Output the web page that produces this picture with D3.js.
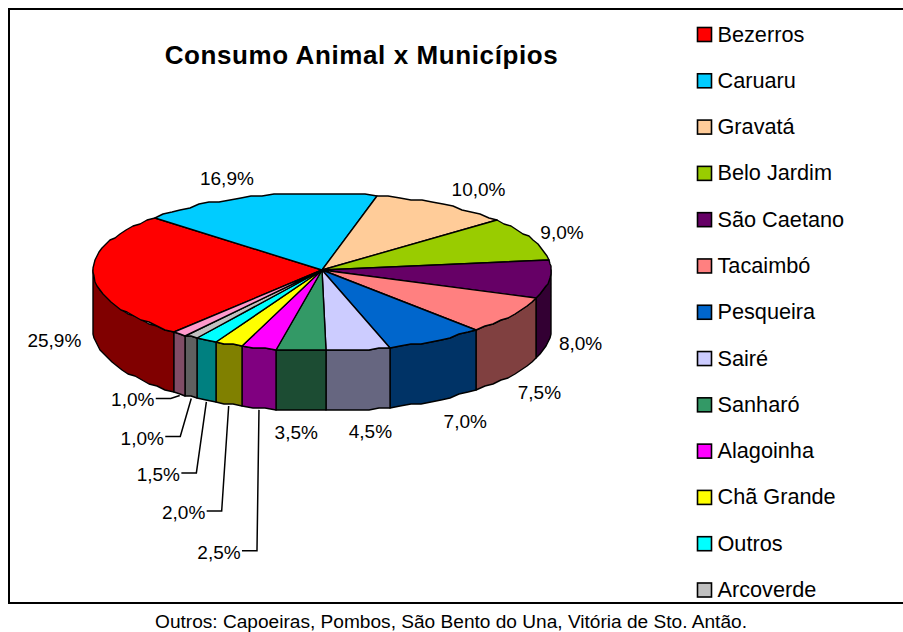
<!DOCTYPE html>
<html>
<head>
<meta charset="utf-8">
<script src="https://cdnjs.cloudflare.com/ajax/libs/d3/7.8.5/d3.min.js"></script>
<style>
html, body { margin: 0; padding: 0; background: #fff; overflow: hidden; }
svg { display: block; }
text { font-family: "Liberation Sans", Arial, sans-serif; fill: #000; }
</style>
</head>
<body>
<svg id="chart" width="903" height="632"></svg>
<script>
// Share of animal consumption per municipality (percent)
const municipios = ["Bezerros", "Caruaru", "Gravatá", "Belo Jardim", "São Caetano", "Tacaimbó",
  "Pesqueira", "Sairé", "Sanharó", "Alagoinha", "Chã Grande", "Outros", "Arcoverde", ""];
const consumo = [25.9, 16.9, 10.0, 9.0, 8.0, 7.5, 7.0, 4.5, 3.5, 2.5, 2.0, 1.5, 1.0, 1.0];
const coresTopo = ["#FF0000", "#00CCFF", "#FFCC99", "#99CC00", "#660066", "#FF8080", "#0066CC",
  "#CCCCFF", "#339966", "#FF00FF", "#FFFF00", "#00FFFF", "#C0C0C0", "#FF99CC"];
const coresLado = ["#800000", "#006680", "#806650", "#4D6600", "#330033", "#804040", "#003366",
  "#666680", "#1C4C33", "#800080", "#808000", "#008080", "#606060", "#804D66"];

const titulo = "Consumo Animal x Municípios";
const rodape = "Outros: Capoeiras, Pombos, São Bento do Una, Vitória de Sto. Antão.";

// Label placement relative to each slice's rim point
const ajusteRotulo = [[-39, 5], [-30, -18], [36, -16], [31, -7], [31, 4], [28, 16], [29.5, 21], [12, 21], [-5, 21]];
// Elbow of the leader line relative to the rim point, for the thin front slices
const cotovelo = { 9: [-2, 141], 10: [-7, 105], 11: [-10, 71], 12: [-11, 38], 13: [-9, 3] };

const cx = 322, cy = 270, rx = 229, ryBack = 77, ryFront = 81, depth = 60;
const deg = Math.PI / 180;
const start = 220.2 * deg;

const svg = d3.select("#chart");

// Frame runs off the right side of the page
svg.append("rect").attr("x", 9).attr("y", 9).attr("width", 910).attr("height", 594)
  .attr("fill", "#fff").attr("stroke", "#000").attr("stroke-width", 2);

svg.append("text").attr("x", 361.5).attr("y", 64).attr("text-anchor", "middle")
  .attr("font-size", 26).attr("font-weight", "bold").attr("letter-spacing", 0.6)
  .text(titulo);

svg.append("text").attr("x", 451).attr("y", 628).attr("text-anchor", "middle")
  .attr("font-size", 19.1).text(rodape);

const slices = d3.pie().sort(null).startAngle(start).endAngle(start + 2 * Math.PI)(consumo);

// Screen position of a rim angle; the near half of the disc is drawn a little larger
function rim(a) {
  const c = -Math.cos(a);
  return [cx + rx * Math.sin(a), cy + (c > 0 ? ryFront : ryBack) * c];
}
// Angle samples along an arc, a few degrees apart, giving the faceted outline
function samples(a0, a1) {
  const n = Math.max(1, Math.ceil((a1 - a0) / (3 * deg)));
  return d3.range(n + 1).map(i => a0 + (a1 - a0) * i / n);
}
const snap = p => [Math.round(p[0]), Math.round(p[1] / 2) * 2];
const line = d3.line();

// Side wall: only the part of each slice facing the viewer
const frontLo = 90 * deg, frontHi = 270 * deg;
const walls = svg.append("g");
slices.forEach((s, i) => {
  for (const k of [0, 2 * Math.PI]) {
    const a0 = Math.max(s.startAngle - k, frontLo), a1 = Math.min(s.endAngle - k, frontHi);
    if (a1 <= a0) continue;
    const top = samples(a0, a1).map(rim).map(snap);
    const bottom = top.map(p => [p[0], p[1] + depth]).reverse();
    walls.append("path").attr("d", line(top.concat(bottom)) + "Z")
      .attr("fill", coresLado[i]).attr("stroke", "#000").attr("stroke-width", 1.4)
      .attr("stroke-linejoin", "round");
  }
});

// Top face of the disc
svg.append("g").selectAll("path").data(slices).join("path")
  .attr("d", s => line([[cx, cy]].concat(samples(s.startAngle, s.endAngle).map(rim).map(snap))) + "Z")
  .attr("fill", (s, i) => coresTopo[i]).attr("stroke", "#000").attr("stroke-width", 1.4)
  .attr("stroke-linejoin", "round");

// Percentage labels and leader lines
const fmt = v => v.toFixed(1).replace(".", ",") + "%";
const labels = svg.append("g").attr("font-size", 19);
slices.forEach((s, i) => {
  const mid = (s.startAngle + s.endAngle) / 2;
  const p = rim(mid);
  const front = -Math.cos(mid) > 0;
  const base = [p[0], p[1] + (front ? depth : 0)];
  let lx, ly;
  if (cotovelo[i]) {
    const tip = [base[0], base[1] + 2];
    const ex = tip[0] + cotovelo[i][0], ey = tip[1] + cotovelo[i][1];
    svg.append("path").attr("d", line([tip, [ex, ey], [ex - 15, ey]]))
      .attr("fill", "none").attr("stroke", "#000").attr("stroke-width", 1.5);
    lx = ex - 38; ly = ey + 1;
  } else {
    lx = base[0] + ajusteRotulo[i][0]; ly = base[1] + ajusteRotulo[i][1];
  }
  labels.append("text").attr("x", lx).attr("y", ly + 7).attr("text-anchor", "middle").text(fmt(s.data));
});

// Legend; the list is cut by the frame after the thirteenth entry
const legendY = d3.scalePoint().domain(d3.range(13)).range([34.5, 590]);
const legend = svg.append("g").selectAll("g").data(municipios.slice(0, 13)).join("g")
  .attr("transform", (d, i) => `translate(0,${legendY(i)})`);
legend.append("rect").attr("x", 697.5).attr("y", -7).attr("width", 14).attr("height", 14)
  .attr("fill", (d, i) => coresTopo[i]).attr("stroke", "#000").attr("stroke-width", 1.6);
legend.append("text").attr("x", 717.5).attr("y", 7).attr("font-size", 21.7).text(d => d);
</script>
</body>
</html>
